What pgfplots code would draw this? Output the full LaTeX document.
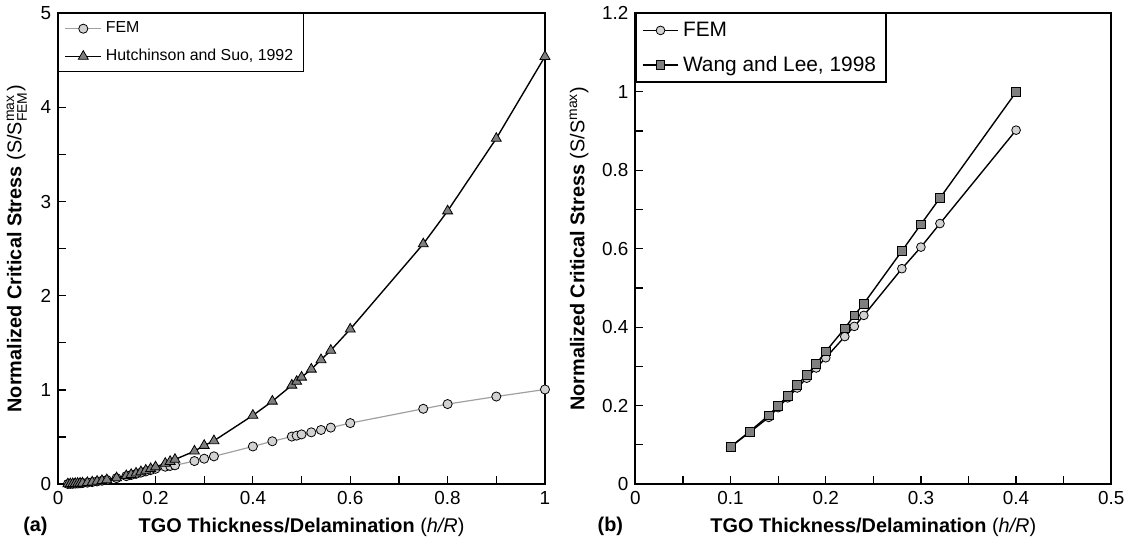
\documentclass[border=0pt]{standalone}
\usepackage{fontspec}
\setmainfont{Liberation Sans}
\usepackage{amsmath}
\usepackage{pgfplots}
\pgfplotsset{compat=1.18}

\definecolor{femfill}{HTML}{D2D2D2}
\definecolor{reffill}{HTML}{7F7F7F}
\definecolor{femline}{HTML}{A0A0A0}

\pgfplotsset{
  paper/.style={
    scale only axis,
    clip mode=individual,
    axis line style={line width=1pt},
    tick align=inside,
    xtick pos=bottom, ytick pos=left,
    major tick length=4pt, minor tick length=4pt,
    every tick/.style={black, line width=0.6pt},
    ticklabel style={font=\fontsize{9.5}{11}\selectfont},
    /pgf/number format/assume math mode=true,
    xlabel style={font=\fontsize{10}{12}\selectfont\bfseries},
    ylabel style={font=\fontsize{10}{12}\selectfont\bfseries},
    legend cell align=left,
    legend image code/.code={
      \draw[mark repeat=2, mark phase=2] plot coordinates {(0pt,0pt) (9pt,0pt) (18pt,0pt)};
    },
    legend style={at={(0,1)}, anchor=north west, draw=black, line width=0.6pt,
      inner xsep=3pt, inner ysep=2pt},
  },
}

\begin{document}
\begin{tikzpicture}

% (a)
\begin{axis}[paper,
  width=245pt, height=237pt,
  xmin=0, xmax=1, ymin=0, ymax=5,
  xtick={0,0.2,...,1}, minor x tick num=1,
  ytick={0,1,...,5}, minor y tick num=1,
  xlabel={TGO Thickness/Delamination \mdseries(\textit{h/R})},
  ylabel={Normalized Critical Stress \mdseries(S/S$^{\text{max}}_{\text{FEM}}$)},
  legend style={font=\fontsize{8}{10}\selectfont, row sep=2.8pt,
    /tikz/every even column/.append style={column sep=2pt}},
]
\addplot[femline, line width=0.6pt, mark=*, mark size=2.3pt,
  mark options={fill=femfill, draw=black, line width=0.4pt, solid}]
  table {
  0.020 0.002
  0.025 0.003
  0.030 0.004
  0.035 0.006
  0.040 0.007
  0.045 0.009
  0.050 0.011
  0.060 0.016
  0.070 0.022
  0.080 0.029
  0.090 0.036
  0.100 0.044
  0.120 0.064
  0.140 0.085
  0.150 0.097
  0.160 0.109
  0.170 0.122
  0.180 0.135
  0.190 0.149
  0.200 0.163
  0.220 0.185
  0.230 0.193
  0.240 0.200
  0.280 0.245
  0.300 0.270
  0.320 0.295
  0.400 0.400
  0.440 0.455
  0.480 0.505
  0.490 0.515
  0.500 0.528
  0.520 0.550
  0.540 0.575
  0.560 0.600
  0.600 0.648
  0.750 0.800
  0.800 0.850
  0.900 0.930
  1.000 1.005
  };
\addplot[black, line width=0.7pt, mark=triangle*, mark size=2.9pt,
  mark options={fill=reffill, draw=black, line width=0.4pt, solid}]
  table {
  0.020 0.002
  0.025 0.003
  0.030 0.004
  0.035 0.006
  0.040 0.007
  0.045 0.009
  0.050 0.011
  0.060 0.016
  0.070 0.022
  0.080 0.029
  0.090 0.037
  0.100 0.046
  0.120 0.066
  0.140 0.089
  0.150 0.102
  0.160 0.116
  0.170 0.131
  0.180 0.147
  0.190 0.164
  0.200 0.182
  0.220 0.220
  0.230 0.240
  0.240 0.262
  0.280 0.350
  0.300 0.410
  0.320 0.460
  0.400 0.730
  0.440 0.880
  0.480 1.050
  0.490 1.090
  0.500 1.135
  0.520 1.220
  0.540 1.320
  0.560 1.420
  0.600 1.645
  0.750 2.550
  0.800 2.900
  0.900 3.670
  1.000 4.540
  };
\legend{FEM, {Hutchinson and Suo, 1992}}
\node[anchor=base west, font=\fontsize{10}{12}\selectfont\bfseries]
  at (rel axis cs:-0.086,-0.1) {(a)};
\end{axis}

% (b)
\begin{axis}[paper, xshift=290.5pt,
  width=239.5pt, height=237pt,
  xmin=0, xmax=0.5, ymin=0, ymax=1.2,
  xtick={0,0.1,...,0.5}, minor x tick num=1,
  ytick={0,0.2,...,1.2}, minor y tick num=1,
  xlabel={TGO Thickness/Delamination \mdseries(\textit{h/R})},
  ylabel={Normalized Critical Stress \mdseries(S/S$^{\text{max}}$)},
  legend style={font=\fontsize{10.5}{12}\selectfont, row sep=4.5pt,
    /tikz/every even column/.append style={column sep=2pt}},
]
\addplot[black, line width=0.7pt, mark=*, mark size=2.2pt,
  mark options={fill=femfill, draw=black, line width=0.4pt, solid}]
  table {
  0.10 0.095
  0.12 0.132
  0.14 0.170
  0.15 0.195
  0.16 0.220
  0.17 0.245
  0.18 0.270
  0.19 0.296
  0.20 0.322
  0.22 0.376
  0.23 0.402
  0.24 0.430
  0.28 0.549
  0.30 0.604
  0.32 0.664
  0.40 0.902
  };
\addplot[black, line width=0.7pt, mark=square*, mark size=2.2pt,
  mark options={fill=reffill, draw=black, line width=0.4pt, solid}]
  table {
  0.10 0.095
  0.12 0.134
  0.14 0.175
  0.15 0.200
  0.16 0.225
  0.17 0.253
  0.18 0.278
  0.19 0.306
  0.20 0.338
  0.22 0.397
  0.23 0.430
  0.24 0.460
  0.28 0.594
  0.30 0.662
  0.32 0.729
  0.40 0.999
  };
\legend{FEM, {Wang and Lee, 1998}}
\node[anchor=base west, font=\fontsize{10}{12}\selectfont\bfseries]
  at (rel axis cs:-0.094,-0.1) {(b)};
\end{axis}

\end{tikzpicture}
\end{document}
